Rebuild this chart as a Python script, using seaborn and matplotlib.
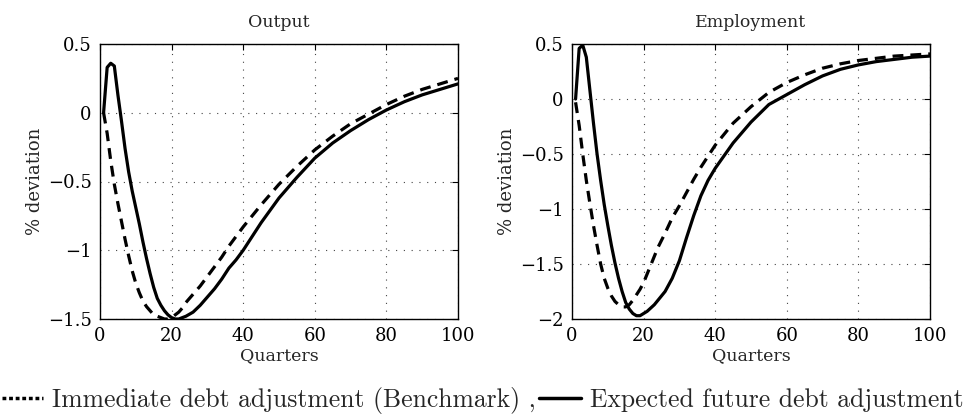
import numpy as np
import pandas as pd
import matplotlib
matplotlib.use("Agg")
import matplotlib.pyplot as plt
from matplotlib.lines import Line2D
import seaborn as sns

# Impulse responses, % deviation from steady state, by quarter
quarters = [1, 2, 3, 4, 5, 6, 7, 8, 9, 10, 11, 12, 13, 14, 15, 16, 17, 18, 19, 20,
            21, 22, 23, 24, 26, 28, 30, 32, 34, 36, 38, 40,
            45, 50, 55, 60, 65, 70, 75, 80, 85, 90, 95, 100]

output_benchmark = [0.0, -0.15, -0.35, -0.52, -0.66, -0.79, -0.92, -1.04, -1.15, -1.24,
                    -1.31, -1.37, -1.41, -1.44, -1.47, -1.48, -1.49, -1.50, -1.50, -1.49,
                    -1.47, -1.45, -1.42, -1.38, -1.32, -1.26, -1.19, -1.12, -1.05, -0.97,
                    -0.90, -0.83,
                    -0.67, -0.52, -0.39, -0.27, -0.17, -0.08, -0.01, 0.06, 0.12, 0.17, 0.21, 0.25]
output_expected = [0.0, 0.33, 0.36, 0.34, 0.13, -0.06, -0.26, -0.43, -0.57, -0.69,
                   -0.81, -0.94, -1.06, -1.17, -1.27, -1.35, -1.40, -1.44, -1.47, -1.49,
                   -1.50, -1.50, -1.49, -1.48, -1.45, -1.40, -1.34, -1.28, -1.21, -1.13,
                   -1.07, -1.00,
                   -0.80, -0.62, -0.47, -0.33, -0.22, -0.13, -0.05, 0.02, 0.08, 0.13, 0.17, 0.21]

employment_benchmark = [-0.03, -0.24, -0.50, -0.74, -0.95, -1.15, -1.33, -1.50, -1.63, -1.72,
                        -1.79, -1.84, -1.87, -1.89, -1.89, -1.87, -1.83, -1.78, -1.73, -1.67,
                        -1.59, -1.51, -1.43, -1.35, -1.22, -1.08, -0.97, -0.85, -0.73, -0.62,
                        -0.52, -0.42,
                        -0.22, -0.07, 0.06, 0.15, 0.22, 0.28, 0.32, 0.35, 0.37, 0.39, 0.40, 0.41]
employment_expected = [0.0, 0.46, 0.49, 0.38, 0.08, -0.22, -0.50, -0.74, -0.96, -1.15,
                       -1.33, -1.49, -1.63, -1.75, -1.85, -1.91, -1.95, -1.97, -1.97, -1.95,
                       -1.93, -1.90, -1.87, -1.83, -1.75, -1.63, -1.47, -1.26, -1.06, -0.88,
                       -0.74, -0.63,
                       -0.40, -0.21, -0.05, 0.04, 0.13, 0.21, 0.27, 0.31, 0.34, 0.36, 0.38, 0.39]

panel_titles = ["Output", "Employment"]
series_labels = ["Immediate debt adjustment (Benchmark) ,", "Expected future debt adjustment"]
x_ticks = [0, 20, 40, 60, 80, 100]
y_ticks_output = [-1.5, -1, -0.5, 0, 0.5]
y_ticks_employment = [-2, -1.5, -1, -0.5, 0, 0.5]

sns.set_style("white")
plt.rcParams["font.family"] = ["DejaVu Serif", "Liberation Serif"]
plt.rcParams["axes.unicode_minus"] = True

fig = plt.figure(figsize=(9.65, 4.16), dpi=100)
ax_out = fig.add_axes([100 / 965, 1 - 319 / 416, 358 / 965, 275 / 416])
ax_emp = fig.add_axes([572 / 965, 1 - 319 / 416, 358 / 965, 275 / 416])

panels = [
    (ax_out, output_benchmark, output_expected, y_ticks_output),
    (ax_emp, employment_benchmark, employment_expected, y_ticks_employment),
]

for (ax, bench, expect, yt), title in zip(panels, panel_titles):
    df = pd.DataFrame({"Quarters": quarters, "bench": bench, "expect": expect})
    sns.lineplot(data=df, x="Quarters", y="bench", ax=ax, color="black",
                 linewidth=2.3, linestyle=(0, (3.4, 2.2)))
    sns.lineplot(data=df, x="Quarters", y="expect", ax=ax, color="black",
                 linewidth=2.3, linestyle="-")
    ax.set_xlim(0, 100)
    ax.set_ylim(min(yt), max(yt))
    ax.set_xticks(x_ticks)
    ax.set_yticks(yt)
    ax.set_yticklabels([f"{v:g}".replace("-", "\u2212") for v in yt])
    ax.grid(True, color="#444444", linestyle=(0, (1, 6)), linewidth=0.8)
    ax.tick_params(direction="in", length=4, width=0.8, top=True, right=True,
                   labelsize=13, pad=6, colors="black")
    for sp in ax.spines.values():
        sp.set_color("black")
        sp.set_linewidth(1.0)
    ax.set_title(title, fontsize=12.5, pad=12)
    ax.set_xlabel("Quarters", fontsize=12.5, labelpad=1)
    ax.set_ylabel("% deviation", fontsize=13, labelpad=3)

# Legend along the bottom, set in Computer Modern
leg_font = {"family": "cmr10", "size": 18.5}
h_bench = Line2D([], [], color="black", linewidth=2.5, linestyle=(0, (1.1, 0.8)))
h_expect = Line2D([], [], color="black", linewidth=2.5, linestyle="-")
fig.legend([h_bench, h_expect], series_labels, loc="center",
           bbox_to_anchor=(0.5, 1 - 400 / 416), ncol=2, frameon=False, prop=leg_font,
           handlelength=1.6, handletextpad=0.35, columnspacing=0.15, borderaxespad=0,
           borderpad=0)

fig.savefig("out.png", dpi=100)
